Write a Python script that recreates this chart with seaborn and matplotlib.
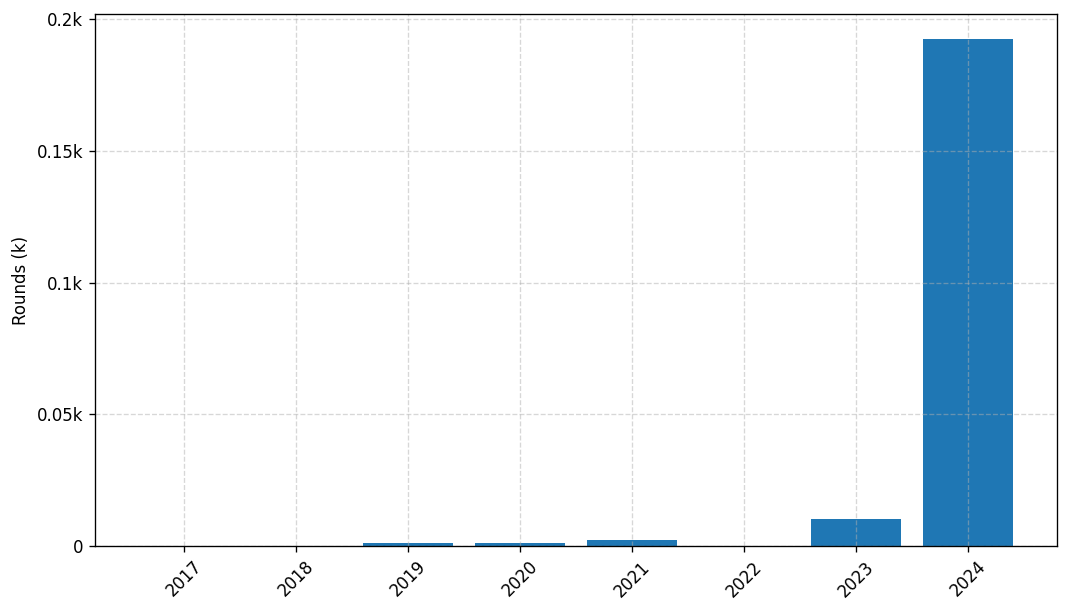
import matplotlib
matplotlib.use("Agg")
import matplotlib.pyplot as plt
import seaborn as sns
from matplotlib.ticker import FuncFormatter

years = ["2017", "2018", "2019", "2020", "2021", "2022", "2023", "2024"]
rounds = [0.0, 0.0, 1.1, 1.1, 2.3, 0.0, 10.2, 192.4]

fig, ax = plt.subplots(figsize=(1069 / 120, 612 / 120), dpi=120)
sns.barplot(x=years, y=rounds, color="#1f77b4", saturation=1, ax=ax, width=0.8)
ax.set_ylabel("Rounds (k)")
ax.set_xlabel("")
ax.yaxis.set_major_formatter(FuncFormatter(lambda v, p: "0" if v == 0 else f"{v/1000:g}k"))
ax.set_yticks([0, 50, 100, 150, 200])
ax.set_ylim(0, 202)
ax.set_xlim(-0.795, 7.795)
ax.grid(True, linestyle="--", alpha=0.5)
plt.setp(ax.get_xticklabels(), rotation=45)
fig.subplots_adjust(left=95 / 1069, right=1057 / 1069, top=1 - 14 / 612, bottom=1 - 546 / 612)
fig.savefig("out.png", dpi=120)
